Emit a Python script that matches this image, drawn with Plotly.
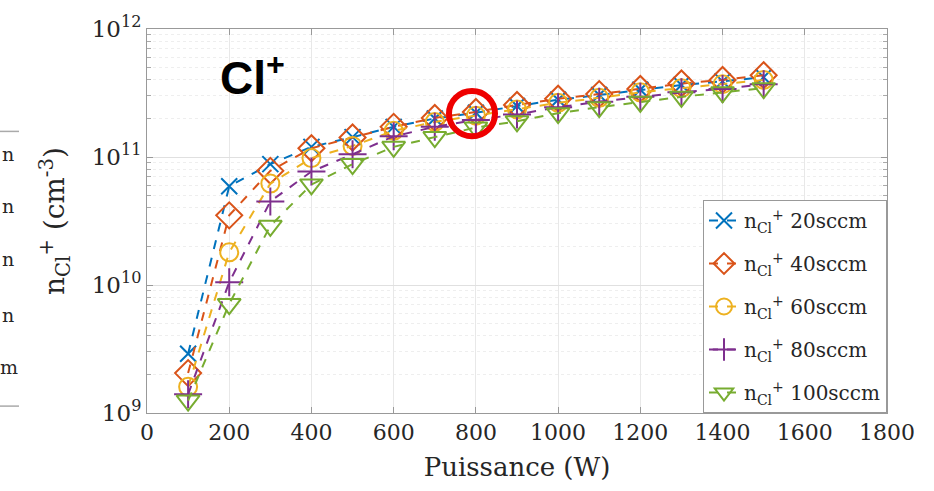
import plotly.graph_objects as go

power_w = [100, 200, 300, 400, 500, 600, 700, 800, 900, 1000, 1100, 1200, 1300, 1400, 1500]

n_20sccm = [2.9e9, 5.9e10, 8.8e10, 1.2e11, 1.43e11, 1.72e11, 2.0e11, 2.22e11, 2.5e11, 2.8e11, 3.05e11, 3.35e11, 3.65e11, 3.9e11, 4.2e11]
n_40sccm = [2.05e9, 3.5e10, 7.8e10, 1.17e11, 1.42e11, 1.72e11, 2.02e11, 2.25e11, 2.55e11, 2.85e11, 3.1e11, 3.4e11, 3.75e11, 4.0e11, 4.35e11]
n_60sccm = [1.6e9, 1.8e10, 6.2e10, 9.8e10, 1.22e11, 1.6e11, 1.88e11, 2.1e11, 2.35e11, 2.65e11, 2.9e11, 3.2e11, 3.45e11, 3.7e11, 4.0e11]
n_80sccm = [1.4e9, 1.05e10, 4.5e10, 7.7e10, 1.05e11, 1.45e11, 1.72e11, 1.95e11, 2.15e11, 2.45e11, 2.7e11, 2.95e11, 3.2e11, 3.4e11, 3.7e11]
n_100sccm = [1.25e9, 7.1e9, 2.9e10, 6.1e10, 8.8e10, 1.2e11, 1.43e11, 1.7e11, 1.9e11, 2.2e11, 2.45e11, 2.7e11, 2.95e11, 3.2e11, 3.45e11]

series_names = ["n<sub>Cl</sub><sup>+</sup> 20sccm", "n<sub>Cl</sub><sup>+</sup> 40sccm",
                "n<sub>Cl</sub><sup>+</sup> 60sccm", "n<sub>Cl</sub><sup>+</sup> 80sccm",
                "n<sub>Cl</sub><sup>+</sup> 100sccm"]
series_values = [n_20sccm, n_40sccm, n_60sccm, n_80sccm, n_100sccm]

x_ticks = [0, 200, 400, 600, 800, 1000, 1200, 1400, 1600, 1800]
y_ticks = [1e9, 1e10, 1e11, 1e12]
y_tick_labels = ["10<sup>9</sup>", "10<sup>10</sup>", "10<sup>11</sup>", "10<sup>12</sup>"]
y_minor_ticks = [k * 10.0 ** e for e in (9, 10, 11) for k in range(2, 10)]

colors = ["#0072BD", "#D95319", "#EDB120", "#7E2F8E", "#77AC30"]
symbols = ["x-thin-open", "diamond-open", "circle-open", "cross-thin-open", "triangle-down-open"]
sizes = [16, 20, 18, 20, 20]

fig = go.Figure()
for i, (name, vals, c, s, sz) in enumerate(zip(series_names, series_values, colors, symbols, sizes)):
    fig.add_trace(go.Scatter(
        x=power_w, y=vals, name=name, mode="lines+markers", legendgroup=f"g{i}",
        line=dict(color=c, width=2, dash="dash"),
        marker=dict(symbol=s, size=sz, color=c, line=dict(color=c, width=2)),
    ))

serif = "DejaVu Serif"
txt = "#262626"
fig.update_layout(
    width=934, height=491,
    margin=dict(l=147, r=47, t=23, b=78),
    paper_bgcolor="white", plot_bgcolor="white",
    font=dict(family=serif, color=txt),
    showlegend=True,
    legend=dict(
        x=1, y=0, xanchor="right", yanchor="bottom",
        bgcolor="white", bordercolor="#999999", borderwidth=1,
        font=dict(family=serif, size=20, color=txt),
        itemwidth=30, tracegroupgap=14,
    ),
    xaxis=dict(
        range=[0, 1800], tickvals=x_ticks, ticks="inside", ticklen=6,
        tickcolor="#999999", showline=True, linecolor="#999999", mirror="ticks",
        showgrid=True, gridcolor="#e8e8e8", zeroline=False,
        tickfont=dict(size=22, family=serif, color=txt),
        title=dict(text="Puissance (W)", font=dict(size=26, family=serif, color=txt), standoff=13),
    ),
    yaxis=dict(
        type="log", range=[9, 12], tickvals=y_ticks, ticktext=y_tick_labels,
        ticks="inside", ticklen=6, tickcolor="#999999",
        showline=True, linecolor="#999999", mirror="ticks",
        showgrid=True, gridcolor="#e0e0e0", zeroline=False,
        minor=dict(tickvals=y_minor_ticks, ticks="inside", ticklen=4, tickcolor="#aaaaaa",
                   showgrid=True, gridcolor="#eeeeee", griddash="dot"),
        tickfont=dict(size=23, family=serif, color=txt),
        title=dict(text="n<sub>Cl</sub><sup>+</sup> (cm<sup>-3</sup>)",
                   font=dict(size=28, family=serif, color=txt), standoff=18),
    ),
)

# "Cl+" label
fig.add_annotation(xref="paper", yref="paper", x=(218 - 147) / 740, y=(413 - 70) / 390,
                   xanchor="left", yanchor="middle", showarrow=False,
                   text="<b>Cl<sup>+</sup></b>",
                   font=dict(family="Liberation Sans", size=46, color="black"))

# red highlight circle
cx, cy, r = 472, 109, 23
fig.add_shape(type="circle", xref="paper", yref="paper",
              x0=(cx - r - 147) / 740, x1=(cx + r - 147) / 740,
              y0=(413 - cy - r) / 390, y1=(413 - cy + r) / 390,
              line=dict(color="#EE0000", width=6))

# cropped fragment of a neighbouring legend at the far left
for yy in [127, 406]:
    fig.add_shape(type="line", xref="paper", yref="paper",
                  x0=(-5 - 147) / 740, x1=(19 - 147) / 740,
                  y0=(413 - yy) / 390, y1=(413 - yy) / 390,
                  line=dict(color="#aaaaaa", width=1.5))
for yy, t, xr in [(150, "n", 16), (203, "n", 16), (257, "n", 16), (313, "n", 16), (366, "m", 20)]:
    fig.add_annotation(xref="paper", yref="paper", x=(xr - 147) / 740, y=(413 - yy) / 390,
                       xanchor="right", yanchor="middle", showarrow=False, text=t,
                       font=dict(family=serif, size=19, color=txt))

fig.write_html("out.html")
